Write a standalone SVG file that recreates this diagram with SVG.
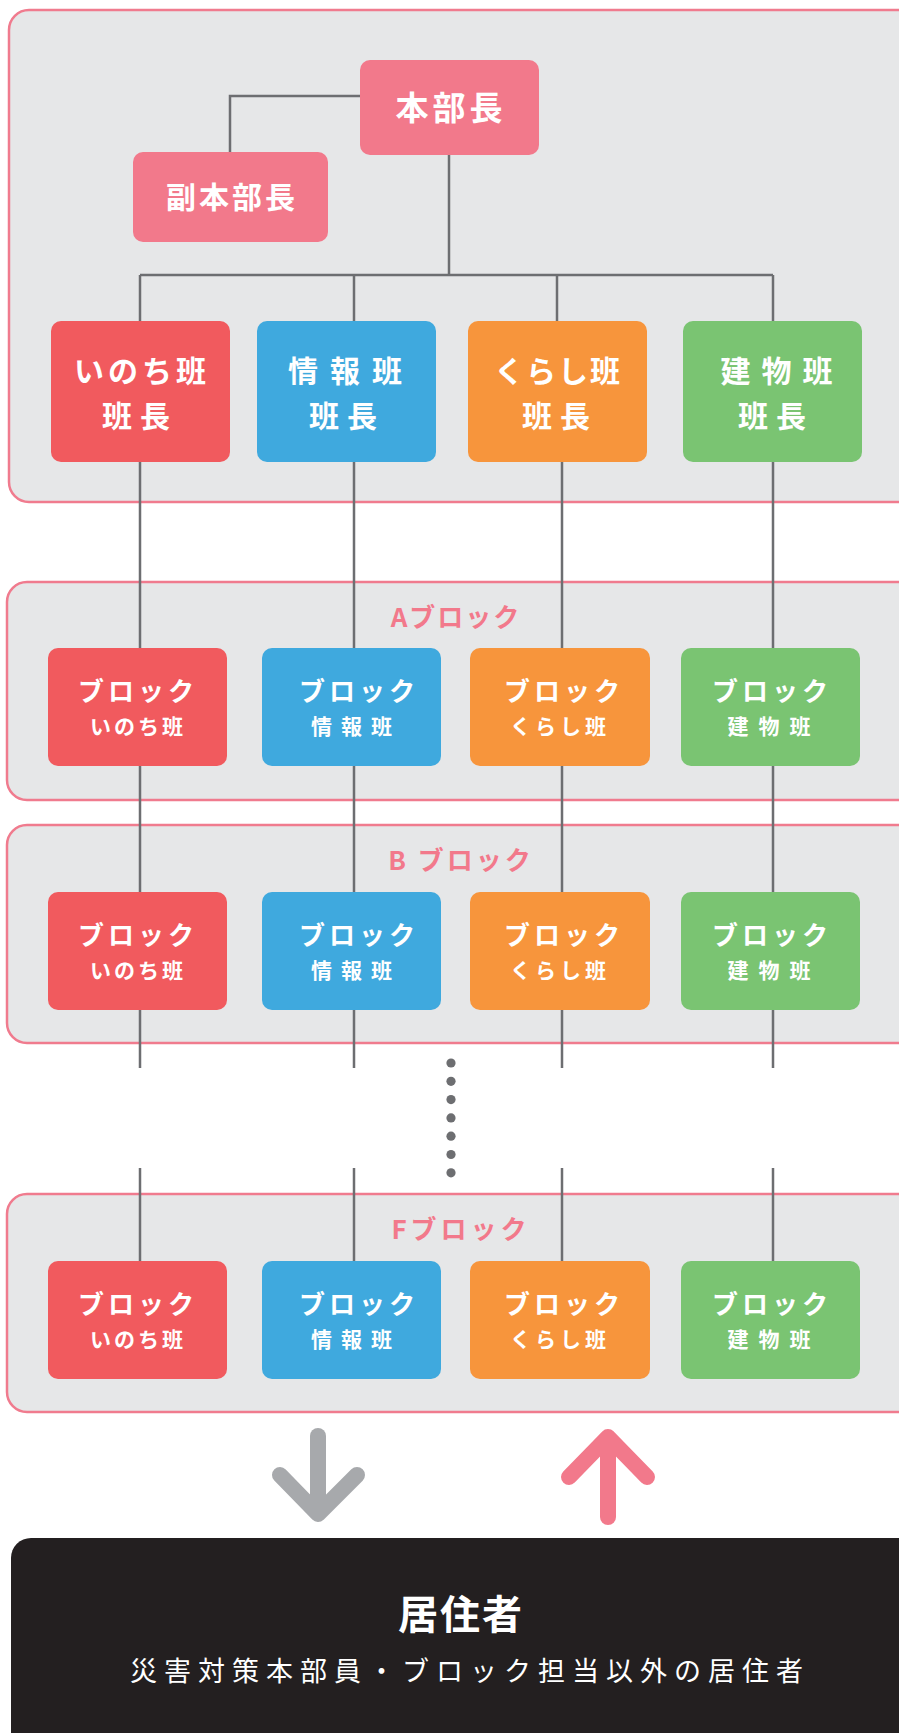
<svg xmlns="http://www.w3.org/2000/svg" width="899" height="1733" viewBox="0 0 899 1733">
<defs>
<style>
.panel{fill:#e6e7e8;stroke:#f07b8e;stroke-width:2.5}
.conn{fill:none;stroke:#6d6e71;stroke-width:2.5}
.pink{fill:#f2798b}
.red{fill:#f15a5e}
.blue{fill:#3fa9de}
.orange{fill:#f7953c}
.green{fill:#7ac472}
text{font-family:"Noto Sans CJK JP","Noto Sans",sans-serif;text-anchor:middle}
.wt{fill:#ffffff;font-weight:700}
.big{font-size:33px}
.lead{font-size:30px}
.bk{font-size:26px}
.bn{font-size:21px}
.lbl{fill:#f2798b;font-weight:700;font-size:26px}
</style>
</defs>
<rect width="899" height="1733" fill="#ffffff"/>
<g id="panels">
<rect class="panel" x="9" y="10" width="910" height="492" rx="20"/>
<rect class="panel" x="7" y="582" width="912" height="218" rx="20"/>
<rect class="panel" x="7" y="825" width="912" height="218" rx="20"/>
<rect class="panel" x="7" y="1194" width="912" height="218" rx="20"/>
</g>
<g id="connectors">
<polyline class="conn" points="360,96 230,96 230,152"/>
<line class="conn" x1="449" y1="155" x2="449" y2="275"/>
<line class="conn" x1="140" y1="275" x2="773" y2="275"/>
<line class="conn" x1="140" y1="275" x2="140" y2="321"/>
<line class="conn" x1="354" y1="275" x2="354" y2="321"/>
<line class="conn" x1="557" y1="275" x2="557" y2="321"/>
<line class="conn" x1="773" y1="275" x2="773" y2="321"/>
<line class="conn" x1="140" y1="462" x2="140" y2="1068"/>
<line class="conn" x1="354" y1="462" x2="354" y2="1068"/>
<line class="conn" x1="562" y1="462" x2="562" y2="1068"/>
<line class="conn" x1="773" y1="462" x2="773" y2="1068"/>
<line class="conn" x1="140" y1="1168" x2="140" y2="1261"/>
<line class="conn" x1="354" y1="1168" x2="354" y2="1261"/>
<line class="conn" x1="562" y1="1168" x2="562" y2="1261"/>
<line class="conn" x1="773" y1="1168" x2="773" y2="1261"/>
<g fill="#6d6e71">
<circle cx="451" cy="1063" r="4.6"/>
<circle cx="451" cy="1081.3" r="4.6"/>
<circle cx="451" cy="1099.6" r="4.6"/>
<circle cx="451" cy="1117.9" r="4.6"/>
<circle cx="451" cy="1136.2" r="4.6"/>
<circle cx="451" cy="1154.5" r="4.6"/>
<circle cx="451" cy="1172.8" r="4.6"/>
</g>
</g>
<g id="honbucho">
<rect class="pink" x="360" y="60" width="179" height="95" rx="10"/>
<text class="wt big" x="451" y="120" letter-spacing="4">本部長</text>
</g>
<g id="fukuhonbucho">
<rect class="pink" x="133" y="152" width="195" height="90" rx="10"/>
<text class="wt lead" x="232" y="208" letter-spacing="3">副本部長</text>
</g>
<g id="lead-inochi">
<rect class="red" x="51" y="321" width="179" height="141" rx="10"/>
<text class="wt lead" x="142" y="382" letter-spacing="4">いのち班</text>
<text class="wt lead" x="140" y="427" letter-spacing="8">班長</text>
</g>
<g id="lead-joho">
<rect class="blue" x="257" y="321" width="179" height="141" rx="10"/>
<text class="wt lead" x="351" y="382" letter-spacing="12">情報班</text>
<text class="wt lead" x="347" y="427" letter-spacing="8">班長</text>
</g>
<g id="lead-kurashi">
<rect class="orange" x="468" y="321" width="179" height="141" rx="10"/>
<text class="wt lead" x="558" y="382" letter-spacing="2">くらし班</text>
<text class="wt lead" x="560" y="427" letter-spacing="8">班長</text>
</g>
<g id="lead-tatemono">
<rect class="green" x="683" y="321" width="179" height="141" rx="10"/>
<text class="wt lead" x="782" y="382" letter-spacing="11">建物班</text>
<text class="wt lead" x="776" y="427" letter-spacing="8">班長</text>
</g>
<g id="label-a"><text class="lbl" x="456" y="627" letter-spacing="2">Aブロック</text></g>
<g id="label-b"><text class="lbl" x="461" y="870" letter-spacing="3">B ブロック</text></g>
<g id="label-f"><text class="lbl" x="461" y="1239" letter-spacing="4">Fブロック</text></g>
<g id="block-a-inochi">
<rect class="red" x="48" y="648" width="179" height="118" rx="10"/>
<text class="wt bk" x="138" y="701" letter-spacing="4">ブロック</text>
<text class="wt bn" x="138" y="734" letter-spacing="3">いのち班</text>
</g>
<g id="block-a-joho">
<rect class="blue" x="262" y="648" width="179" height="118" rx="10"/>
<text class="wt bk" x="359" y="701" letter-spacing="4">ブロック</text>
<text class="wt bn" x="356" y="734" letter-spacing="9">情報班</text>
</g>
<g id="block-a-kurashi">
<rect class="orange" x="470" y="648" width="180" height="118" rx="10"/>
<text class="wt bk" x="564" y="701" letter-spacing="4">ブロック</text>
<text class="wt bn" x="560" y="734" letter-spacing="4">くらし班</text>
</g>
<g id="block-a-tatemono">
<rect class="green" x="681" y="648" width="179" height="118" rx="10"/>
<text class="wt bk" x="772" y="701" letter-spacing="4">ブロック</text>
<text class="wt bn" x="774" y="734" letter-spacing="10">建物班</text>
</g>
<g id="block-b-inochi">
<rect class="red" x="48" y="892" width="179" height="118" rx="10"/>
<text class="wt bk" x="138" y="945" letter-spacing="4">ブロック</text>
<text class="wt bn" x="138" y="978" letter-spacing="3">いのち班</text>
</g>
<g id="block-b-joho">
<rect class="blue" x="262" y="892" width="179" height="118" rx="10"/>
<text class="wt bk" x="359" y="945" letter-spacing="4">ブロック</text>
<text class="wt bn" x="356" y="978" letter-spacing="9">情報班</text>
</g>
<g id="block-b-kurashi">
<rect class="orange" x="470" y="892" width="180" height="118" rx="10"/>
<text class="wt bk" x="564" y="945" letter-spacing="4">ブロック</text>
<text class="wt bn" x="560" y="978" letter-spacing="4">くらし班</text>
</g>
<g id="block-b-tatemono">
<rect class="green" x="681" y="892" width="179" height="118" rx="10"/>
<text class="wt bk" x="772" y="945" letter-spacing="4">ブロック</text>
<text class="wt bn" x="774" y="978" letter-spacing="10">建物班</text>
</g>
<g id="block-f-inochi">
<rect class="red" x="48" y="1261" width="179" height="118" rx="10"/>
<text class="wt bk" x="138" y="1314" letter-spacing="4">ブロック</text>
<text class="wt bn" x="138" y="1347" letter-spacing="3">いのち班</text>
</g>
<g id="block-f-joho">
<rect class="blue" x="262" y="1261" width="179" height="118" rx="10"/>
<text class="wt bk" x="359" y="1314" letter-spacing="4">ブロック</text>
<text class="wt bn" x="356" y="1347" letter-spacing="9">情報班</text>
</g>
<g id="block-f-kurashi">
<rect class="orange" x="470" y="1261" width="180" height="118" rx="10"/>
<text class="wt bk" x="564" y="1314" letter-spacing="4">ブロック</text>
<text class="wt bn" x="560" y="1347" letter-spacing="4">くらし班</text>
</g>
<g id="block-f-tatemono">
<rect class="green" x="681" y="1261" width="179" height="118" rx="10"/>
<text class="wt bk" x="772" y="1314" letter-spacing="4">ブロック</text>
<text class="wt bn" x="774" y="1347" letter-spacing="10">建物班</text>
</g>
<g id="arrow-down" fill="none" stroke="#a7a9ac" stroke-width="16" stroke-linecap="round" stroke-linejoin="round">
<line x1="318" y1="1436" x2="318" y2="1512"/>
<polyline points="280,1475 318,1514 357,1475"/>
</g>
<g id="arrow-up" fill="none" stroke="#f2798b" stroke-width="16" stroke-linecap="round" stroke-linejoin="round">
<line x1="608" y1="1440" x2="608" y2="1517"/>
<polyline points="569,1477 608,1437 647,1477"/>
</g>
<g id="residents">
<rect x="11" y="1538" width="920" height="250" rx="20" fill="#231f20"/>
<text class="wt" x="461" y="1629" font-size="40" letter-spacing="2">居住者</text>
<text x="470" y="1681" fill="#ffffff" font-size="27" letter-spacing="7">災害対策本部員・ブロック担当以外の居住者</text>
</g>
</svg>
